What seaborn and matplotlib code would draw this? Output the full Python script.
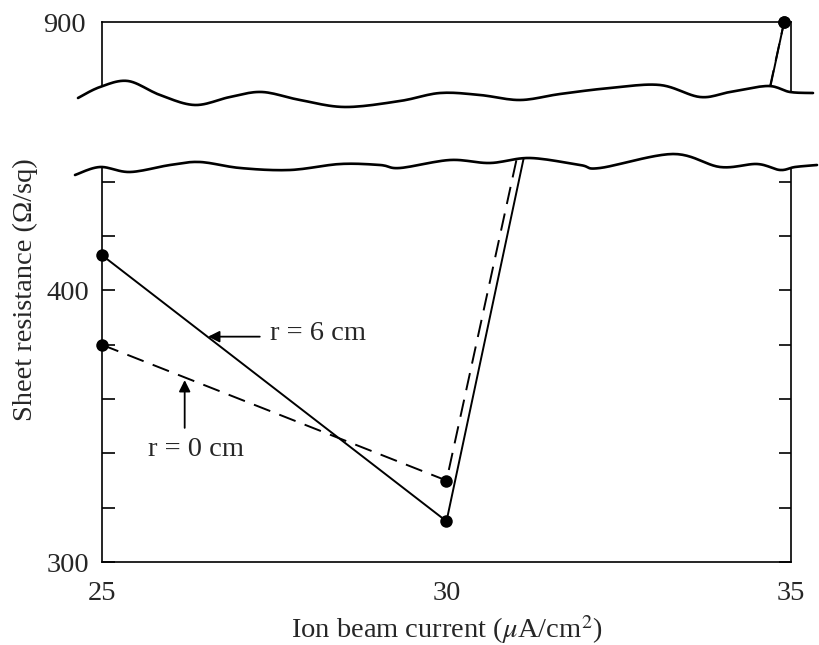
import numpy as np
import pandas as pd
import matplotlib
matplotlib.use("Agg")
import matplotlib.pyplot as plt
import seaborn as sns
from matplotlib.patches import Polygon
from matplotlib.lines import Line2D
from matplotlib.transforms import Bbox, TransformedBbox

# ---------------- data ----------------
current = [25, 30, 34.9]
r6_resistance = [413, 315, 900]
r0_resistance = [380, 330, 900]
series_names = ["r = 6 cm", "r = 0 cm"]
x_ticks = [25, 30, 35]
x_tick_labels = ["25", "30", "35"]
y_ticks_lower = [300, 320, 340, 360, 380, 400, 420, 440]
y_labels_lower = ["300", "", "", "", "", "400", "", ""]
y_ticks_upper = [900]
y_labels_upper = ["900"]

df = pd.DataFrame({
    "current": current * 2,
    "resistance": r6_resistance + r0_resistance,
    "radius": [series_names[0]] * len(current) + [series_names[1]] * len(current),
})

sns.set_theme(style="white")
plt.rcParams['font.family'] = ['Liberation Serif', 'DejaVu Serif']
plt.rcParams['mathtext.fontset'] = 'stix'

W, H = 820, 645
fig = plt.figure(figsize=(W / 100, H / 100), dpi=100)
fig.patch.set_facecolor("white")


def fx(px):
    return px / W


def fy(py):
    return 1 - py / H


left, right = 102, 791
low_top, low_bot = 150, 562
up_top, up_bot = 22, 115
ppu = 2.715  # pixels per ohm/sq

ax_low = fig.add_axes([fx(left), fy(low_bot), fx(right) - fx(left), fy(low_top) - fy(low_bot)])
ax_up = fig.add_axes([fx(left), fy(up_bot), fx(right) - fx(left), fy(up_top) - fy(up_bot)])

FS = 20.5
for ax in (ax_low, ax_up):
    ax.set_facecolor("white")
    sns.lineplot(data=df, x="current", y="resistance", style="radius",
                 dashes={series_names[0]: "", series_names[1]: (9, 5)},
                 markers={series_names[0]: "o", series_names[1]: "o"},
                 color="black", linewidth=1.4, markersize=9, markeredgewidth=0,
                 legend=False, sort=False, ax=ax)
    ax.set_xlim(25, 35)
    ax.set_xlabel("")
    ax.set_ylabel("")
    for sp in ax.spines.values():
        sp.set_color("black")
        sp.set_linewidth(1.2)

ax_low.set_ylim(300, 300 + (low_bot - low_top) / ppu)
ax_up.set_ylim(900 - (up_bot - up_top) / ppu, 900)

# let the markers on the frame show fully
for ln in ax_low.lines:
    ln.set_clip_path(None)
    ln.set_clip_box(TransformedBbox(Bbox([[-0.1, -0.1], [1.1, 1.0]]), ax_low.transAxes))
for ln in ax_up.lines:
    ln.set_clip_path(None)
    ln.set_clip_box(TransformedBbox(Bbox([[-0.1, 0.0], [1.1, 1.5]]), ax_up.transAxes))

ax_low.spines["top"].set_visible(False)
ax_up.spines["bottom"].set_visible(False)

ax_low.set_yticks(y_ticks_lower)
ax_low.set_yticklabels(y_labels_lower, fontsize=FS)
ax_low.tick_params(axis="y", direction="in", length=9, width=1.2, left=True, right=True,
                   color="black", pad=9)
ax_low.set_xticks(x_ticks)
ax_low.set_xticklabels(x_tick_labels, fontsize=FS)
ax_low.tick_params(axis="x", length=0, pad=14)

ax_up.set_yticks(y_ticks_upper)
ax_up.set_yticklabels(y_labels_upper, fontsize=FS)
ax_up.tick_params(axis="y", length=0, pad=12)
ax_up.set_xticks([])

ax_low.set_xlabel("Ion beam current ($\\mu$A/cm$^2$)", fontsize=FS, labelpad=5)
fig.text(fx(25), fy(158), "Sheet resistance (\u03a9/sq)", rotation=90, fontsize=FS,
         ha="center", va="top")

# annotations
arrow_kw = dict(arrowstyle="-|>", color="black", lw=1.3, mutation_scale=17,
                shrinkA=0, shrinkB=0)
ax_low.annotate("", xy=(26.54, 383), xytext=(27.29, 383), arrowprops=arrow_kw)
ax_low.text(27.44, 384.3, series_names[0], fontsize=FS, ha="left", va="center")
ax_low.annotate("", xy=(26.2, 367), xytext=(26.2, 349.4), arrowprops=arrow_kw)
ax_low.text(26.36, 341.6, series_names[1], fontsize=FS, ha="center", va="center")

# ---------------- axis break (decorative wavy edges) ----------------
upper_wave = [(78, 98), (100, 87), (128, 81), (160, 95), (195, 105), (230, 97), (262, 92),
              (300, 100), (345, 107), (400, 101), (440, 93), (480, 95), (520, 100),
              (560, 94), (610, 88), (660, 85), (700, 97), (730, 92), (768, 86),
              (790, 92), (813, 93)]
lower_wave = [(75, 175), (100, 167), (130, 172), (170, 165), (200, 162), (240, 168),
              (290, 170), (340, 164), (380, 165), (400, 168), (450, 160), (490, 163),
              (530, 158), (580, 165), (600, 168), (673, 154), (720, 167), (757, 164),
              (780, 170), (795, 167), (817, 165)]


def smooth(pts, n=12):
    p = np.array(pts, dtype=float)
    p = np.vstack([p[0], p, p[-1]])
    out = []
    for i in range(1, len(p) - 2):
        p0, p1, p2, p3 = p[i - 1], p[i], p[i + 1], p[i + 2]
        for t in np.linspace(0, 1, n, endpoint=False):
            t2, t3 = t * t, t * t * t
            out.append(0.5 * ((2 * p1) + (-p0 + p2) * t + (2 * p0 - 5 * p1 + 4 * p2 - p3) * t2
                              + (-p0 + 3 * p1 - 3 * p2 + p3) * t3))
    out.append(p[-2])
    return np.array(out)


uw = smooth(upper_wave)
lw_ = smooth(lower_wave)
mask = np.vstack([[(60, uw[0, 1])], uw, [(820, uw[-1, 1])],
                  [(820, lw_[-1, 1])], lw_[::-1], [(60, lw_[0, 1])]])
fig.add_artist(Polygon(np.column_stack([fx(mask[:, 0]), fy(mask[:, 1])]),
                       closed=True, facecolor="white", edgecolor="none",
                       transform=fig.transFigure, zorder=5))
for w in (uw, lw_):
    fig.add_artist(Line2D(fx(w[:, 0]), fy(w[:, 1]), color="black", lw=1.9,
                          transform=fig.transFigure, zorder=6,
                          solid_capstyle="round"))

fig.savefig("out.png", dpi=100, facecolor="white")
